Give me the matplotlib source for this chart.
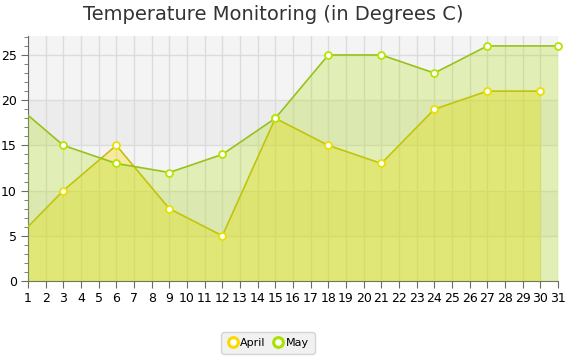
import matplotlib.pyplot as plt
from matplotlib.ticker import MultipleLocator
from matplotlib.lines import Line2D

# data (series start at day 0, axis is cut at day 1)
april_days = [0, 3, 6, 9, 12, 15, 18, 21, 24, 27, 30]
april_temp = [4, 10, 15, 8, 5, 18, 15, 13, 19, 21, 21]
may_days = [0, 3, 6, 9, 12, 15, 18, 21, 24, 27, 31]
may_temp = [20, 15, 13, 12, 14, 18, 25, 25, 23, 26, 26]

yellow = '#f9d900'
green = '#a9e200'

fig = plt.figure(figsize=(5.69, 3.58), dpi=100)
ax = fig.add_axes([28/569, 1 - 281/358, 530/569, 245/358])

ax.set_xlim(1, 31)
ax.set_ylim(0, 27.1)

# background bands
ax.set_facecolor('#f4f4f4')
for lo in (5, 15):
    ax.axhspan(lo, lo + 5, color='#ececec', zorder=0, lw=0)

ax.grid(True, which='major', color='#dcdcdc', lw=1, zorder=1)
ax.xaxis.set_major_locator(MultipleLocator(1))
ax.yaxis.set_major_locator(MultipleLocator(5))
ax.yaxis.set_minor_locator(MultipleLocator(1))

ax.fill_between(april_days, april_temp, 0, color=yellow, alpha=0.35, lw=0, zorder=2)
ax.plot(april_days, april_temp, color='#c9bb10', lw=1.2, zorder=3)
ax.fill_between(may_days, may_temp, 0, color=green, alpha=0.25, lw=0, zorder=4)
ax.plot(may_days, may_temp, color='#96c21a', lw=1.2, zorder=5)

ax.plot(april_days[1:], april_temp[1:], 'o', ms=5, mfc='white', mec='#e8e000', mew=1.3,
        zorder=6, clip_on=False)
ax.plot(may_days[1:], may_temp[1:], 'o', ms=5, mfc='white', mec='#b8e400', mew=1.3,
        zorder=7, clip_on=False)

for s in ('top', 'right'):
    ax.spines[s].set_visible(False)
for s in ('left', 'bottom'):
    ax.spines[s].set_color('#6a6a6a')
ax.tick_params(which='major', length=5, color='#6a6a6a', labelsize=9, pad=3)
ax.tick_params(which='minor', length=3, color='#6a6a6a')
ax.tick_params(axis='x', which='minor', length=0)

fig.suptitle('Temperature Monitoring (in Degrees C)', y=0.985, x=0.48,
             fontsize=14, color='#333333')

handles = [Line2D([], [], marker='o', ls='none', ms=7, mfc='white', mec=yellow, mew=2.2),
           Line2D([], [], marker='o', ls='none', ms=7, mfc='white', mec=green, mew=2.2)]
leg = fig.legend(handles, ['April', 'May'], loc='center', bbox_to_anchor=(268/569, 1 - 343/358),
                 ncol=2, fontsize=8, frameon=True, fancybox=True, handletextpad=0.2,
                 columnspacing=0.6, borderpad=0.5, handlelength=1)
leg.get_frame().set_facecolor('#eeeeee')
leg.get_frame().set_edgecolor('#cccccc')

fig.savefig('out.png', dpi=100)
